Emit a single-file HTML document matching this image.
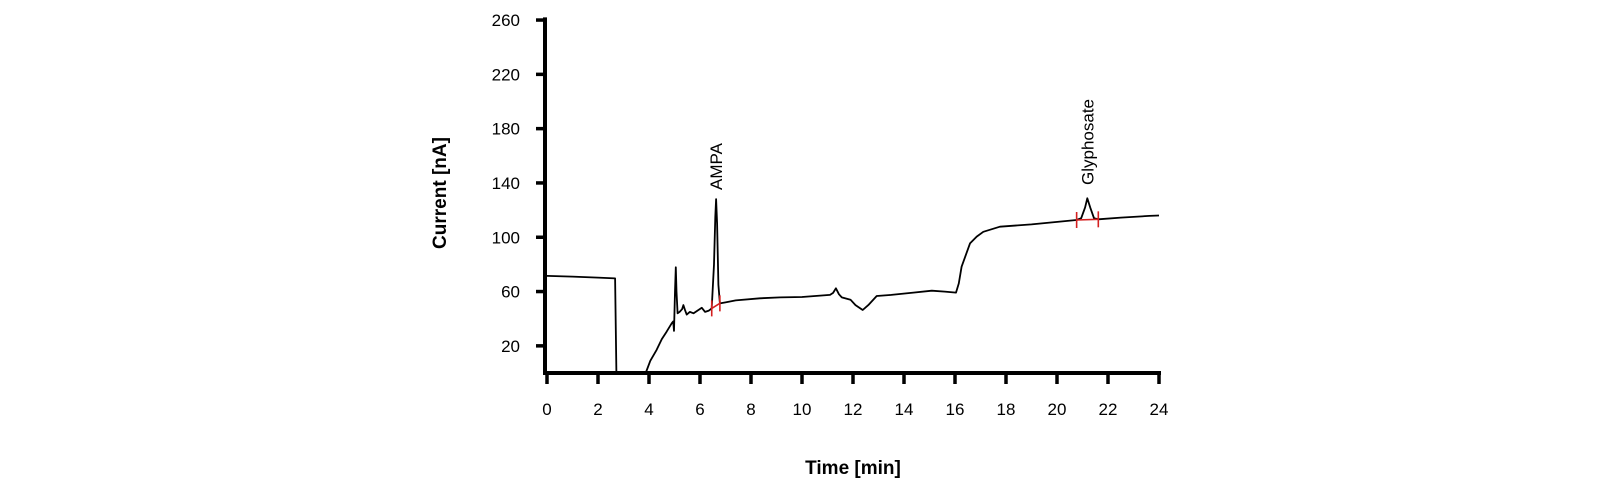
<!DOCTYPE html>
<html><head><meta charset="utf-8"><style>
html,body{margin:0;padding:0;background:#fff;}
svg{display:block;font-family:"Liberation Sans",sans-serif;}
</style></head><body>
<svg id="chart" width="1600" height="489" viewBox="0 0 1600 489" xmlns="http://www.w3.org/2000/svg"></svg>
<script>
const xTicks = [0,2,4,6,8,10,12,14,16,18,20,22,24];
const yTicks = [20,60,100,140,180,220,260];
const segment1T = [0,1,2,2.67,2.72];
const segment1V = [71.5,71,70.3,69.7,0];
const segment2T = [3.87,4.05,4.3,4.5,4.69,4.89,4.95,4.98,5.02,5.05,5.08,5.12,5.2,5.3,5.35,5.42,5.48,5.6,5.75,5.9,6.07,6.2,6.35,6.46,6.55,6.6,6.63,6.67,6.72,6.78,7.0,7.4,8.35,9.14,10,11.1,11.22,11.33,11.45,11.56,11.9,12.1,12.38,12.6,12.93,13.5,14.37,15.09,15.6,16.04,16.15,16.26,16.59,16.85,17.11,17.76,19,20.77,20.95,21.1,21.19,21.3,21.45,21.62,22.5,23.62,24];
const segment2V = [0,9,17,25,30.4,36.6,38,31,60,77.9,60,44,45,47,50,46,43,45,44,46,48,45,46,47.6,80,115,128,110,65,51.3,52,53.5,55,55.7,56,57.5,59,62.4,58,55.7,54,50,46.4,50,56.7,57.5,59.2,60.6,60,59.2,66,78.3,95.5,100.5,104,107.8,109.5,112.7,114,122,128.7,122,114,113.2,114.5,115.7,116];
const markerT = [6.46,6.78,20.77,21.62];
const markerV = [47.6,51.3,112.7,113.2];
const peakNames = ["AMPA","Glyphosate"];
const peakLabelT = [6.63,21.19];

const X0=547, PXM=25.5, Y0=373, PXV=1.3575;
const xs = t => X0 + t*PXM;
const ys = v => Y0 - v*PXV;
const svg = document.getElementById('chart');
const NS = 'http://www.w3.org/2000/svg';
function mk(tag, attrs){const e=document.createElementNS(NS,tag);for(const k in attrs)e.setAttribute(k,attrs[k]);svg.appendChild(e);return e;}

let e = mk('line',{x1:X0-2,y1:ys(0),x2:xs(24)+2,y2:ys(0),stroke:'#000','stroke-width':4});


e = mk('line',{x1:X0-2,y1:ys(0)+2,x2:X0-2,y2:ys(262),stroke:'#000','stroke-width':4});



xTicks.forEach(t=>{
  const tk = mk('line',{x1:xs(t),y1:ys(0),x2:xs(t),y2:ys(0)+11,stroke:'#000','stroke-width':3.5});
  
  
  const lb = mk('text',{x:xs(t),y:ys(0)+42,'text-anchor':'middle','font-size':17,fill:'#000'});
  lb.textContent = t;
  
  
});
yTicks.forEach(v=>{
  const tk = mk('line',{x1:X0-11,y1:ys(v),x2:X0,y2:ys(v),stroke:'#000','stroke-width':3.5});
  
  
  const lb = mk('text',{x:X0-27,y:ys(v)+6,'text-anchor':'end','font-size':17,fill:'#000'});
  lb.textContent = v;
  
  
});

e = mk('text',{x:853,y:474,'text-anchor':'middle','font-size':19,'font-weight':'bold',fill:'#000'});
e.textContent='Time [min]';


e = mk('text',{x:0,y:0,transform:'translate(446,193) rotate(-90)','text-anchor':'middle','font-size':19,'font-weight':'bold',fill:'#000'});
e.textContent='Current [nA]';



function pts(T,V){return T.map((t,i)=>xs(t).toFixed(1)+','+ys(V[i]).toFixed(1)).join(' ');}
e = mk('polyline',{points:pts(segment1T,segment1V),fill:'none',stroke:'#000','stroke-width':1.8,'stroke-linejoin':'round'});


e = mk('polyline',{points:pts(segment2T,segment2V),fill:'none',stroke:'#000','stroke-width':1.8,'stroke-linejoin':'round'});



for(let i=0;i<markerT.length;i+=2){
  const b = mk('line',{x1:xs(markerT[i]),y1:ys(markerV[i]),x2:xs(markerT[i+1]),y2:ys(markerV[i+1]),stroke:'#d42020','stroke-width':1.6});
  
  
  [i,i+1].forEach(j=>{
    const m = mk('line',{x1:xs(markerT[j]),y1:ys(markerV[j])-8,x2:xs(markerT[j]),y2:ys(markerV[j])+8,stroke:'#d42020','stroke-width':1.6});
    
    
  });
}
const labelBottom=[190,185];
peakNames.forEach((n,i)=>{
  const x = xs(peakLabelT[i])+6;
  const l = mk('text',{x:0,y:0,transform:`translate(${x},${labelBottom[i]}) rotate(-90)`,'font-size':17,fill:'#000'});
  l.textContent=n;
  
  
});
</script>
</body></html>
